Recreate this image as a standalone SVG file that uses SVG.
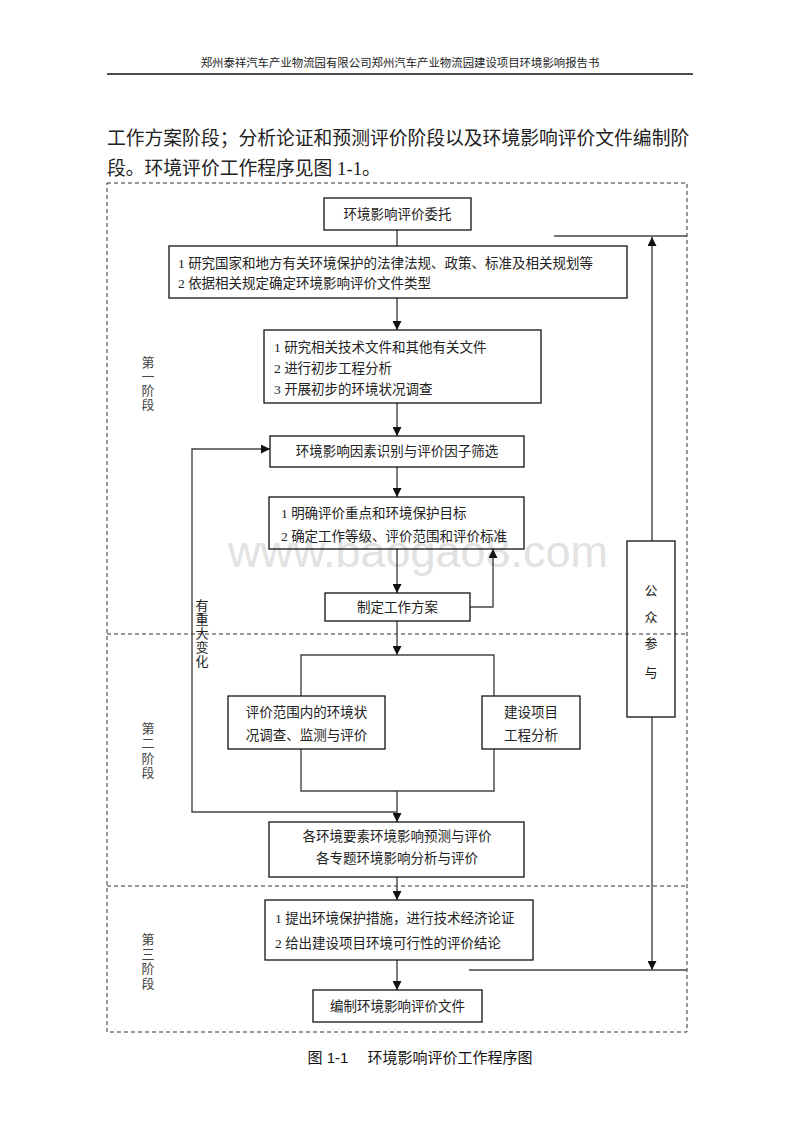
<svg xmlns="http://www.w3.org/2000/svg" width="800" height="1132" viewBox="0 0 800 1132">
<defs>
<marker id="arr" viewBox="0 0 10 10" refX="10" refY="5" markerWidth="9" markerHeight="9" markerUnits="userSpaceOnUse" orient="auto">
<path d="M0,0 L10,5 L0,10 z" fill="#111"/>
</marker>
<style>
.t{font-family:"Liberation Serif","Noto Sans CJK SC",serif;fill:#222;}
.box{fill:none;stroke:#111;stroke-width:1.3;}
.ln{fill:none;stroke:#444;stroke-width:1.4;}
.dash{fill:none;stroke:#333;stroke-width:1;stroke-dasharray:4,3;}
.bx{font-size:13.5px;}
.c{text-anchor:middle;}
.stg{font-size:13px;text-anchor:middle;fill:#444;}
</style>
</defs>
<rect width="800" height="1132" fill="#fff"/>

<!-- page header and body -->
<text class="t c" x="400" y="67" font-size="11.4">郑州泰祥汽车产业物流园有限公司郑州汽车产业物流园建设项目环境影响报告书</text>
<line x1="107" y1="74" x2="693" y2="74" stroke="#111" stroke-width="1.3"/>
<text class="t" x="107" y="145" font-size="18.8">工作方案阶段；分析论证和预测评价阶段以及环境影响评价文件编制阶</text>
<text class="t" x="107" y="175" font-size="18.8">段。环境评价工作程序见图 1-1。</text>

<!-- watermark -->
<text x="418" y="567" font-family="Liberation Sans, Arial, sans-serif" font-size="45" fill="#e2e2e2" text-anchor="middle">www.baogao8.com</text>

<!-- stage frames -->
<g id="frames">
<rect class="dash" x="107" y="183" width="580" height="849"/>
<line class="dash" x1="107" y1="634" x2="687" y2="634"/>
<line class="dash" x1="107" y1="886" x2="687" y2="886"/>
</g>

<!-- stage labels -->
<g id="stage1">
<text class="t stg"><tspan x="148" y="367">第</tspan><tspan x="148" y="381">一</tspan><tspan x="148" y="395">阶</tspan><tspan x="148" y="409">段</tspan></text>
</g>
<g id="stage2">
<text class="t stg"><tspan x="148" y="733">第</tspan><tspan x="148" y="748">二</tspan><tspan x="148" y="763">阶</tspan><tspan x="148" y="777">段</tspan></text>
</g>
<g id="stage3">
<text class="t stg"><tspan x="148" y="944">第</tspan><tspan x="148" y="959">三</tspan><tspan x="148" y="973">阶</tspan><tspan x="148" y="988">段</tspan></text>
</g>

<!-- connectors -->
<g id="connectors">
<line class="ln" x1="397" y1="230" x2="397" y2="246"/>
<line class="ln" x1="397" y1="298" x2="397" y2="330" marker-end="url(#arr)"/>
<line class="ln" x1="397" y1="403" x2="397" y2="436" marker-end="url(#arr)"/>
<line class="ln" x1="397" y1="467" x2="397" y2="497" marker-end="url(#arr)"/>
<line class="ln" x1="397" y1="549" x2="397" y2="593" marker-end="url(#arr)"/>
<polyline class="ln" points="470,607 493,607 493,549" marker-end="url(#arr)"/>
<line class="ln" x1="397" y1="621" x2="397" y2="655" marker-end="url(#arr)"/>
<polyline class="ln" points="301,696 301,655 494,655 494,696"/>
<polyline class="ln" points="301,749 301,791 494,791 494,749"/>
<line class="ln" x1="397" y1="791" x2="397" y2="822" marker-end="url(#arr)"/>
<polyline class="ln" points="397,812 192,812 192,449 270,449" marker-end="url(#arr)"/>
<line class="ln" x1="397" y1="877" x2="397" y2="900" marker-end="url(#arr)"/>
<line class="ln" x1="397" y1="960" x2="397" y2="990" marker-end="url(#arr)"/>
<line class="ln" x1="652" y1="541" x2="652" y2="237" marker-end="url(#arr)"/>
<line class="ln" x1="554" y1="236" x2="687" y2="236"/>
<line class="ln" x1="652" y1="717" x2="652" y2="970" marker-end="url(#arr)"/>
<line class="ln" x1="469" y1="970" x2="687" y2="970"/>
<text class="t" font-size="13" text-anchor="middle" fill="#333"><tspan x="202" y="610">有</tspan><tspan x="202" y="624">重</tspan><tspan x="202" y="638">大</tspan><tspan x="202" y="652">变</tspan><tspan x="202" y="666">化</tspan></text>
</g>

<!-- nodes -->
<g id="n1">
<rect class="box" x="324" y="198" width="147" height="32"/>
<text class="t bx c" x="397.5" y="219">环境影响评价委托</text>
</g>
<g id="n2">
<rect class="box" x="169" y="246" width="458" height="52"/>
<text class="t bx" x="178" y="268">1 研究国家和地方有关环境保护的法律法规、政策、标准及相关规划等</text>
<text class="t bx" x="178" y="288">2 依据相关规定确定环境影响评价文件类型</text>
</g>
<g id="n3">
<rect class="box" x="264" y="330" width="277" height="73"/>
<text class="t bx" x="274" y="352">1 研究相关技术文件和其他有关文件</text>
<text class="t bx" x="274" y="373">2 进行初步工程分析</text>
<text class="t bx" x="274" y="394">3 开展初步的环境状况调查</text>
</g>
<g id="n4">
<rect class="box" x="270" y="436" width="254" height="31"/>
<text class="t bx c" x="397" y="456">环境影响因素识别与评价因子筛选</text>
</g>
<g id="n5">
<rect class="box" x="269" y="497" width="255" height="52"/>
<text class="t bx" x="281" y="518">1 明确评价重点和环境保护目标</text>
<text class="t bx" x="281" y="541">2 确定工作等级、评价范围和评价标准</text>
</g>
<g id="n6">
<rect class="box" x="325" y="593" width="145" height="28"/>
<text class="t bx c" x="397.5" y="612">制定工作方案</text>
</g>
<g id="n7">
<rect class="box" x="228" y="696" width="157" height="53"/>
<text class="t bx c" x="306.5" y="717">评价范围内的环境状</text>
<text class="t bx c" x="306.5" y="740">况调查、监测与评价</text>
</g>
<g id="n8">
<rect class="box" x="482" y="696" width="98" height="53"/>
<text class="t bx c" x="531" y="717">建设项目</text>
<text class="t bx c" x="531" y="740">工程分析</text>
</g>
<g id="n9">
<rect class="box" x="269" y="822" width="255" height="55"/>
<text class="t bx c" x="397" y="841">各环境要素环境影响预测与评价</text>
<text class="t bx c" x="397" y="863">各专题环境影响分析与评价</text>
</g>
<g id="n10">
<rect class="box" x="265" y="900" width="268" height="60"/>
<text class="t bx" x="275" y="923">1 提出环境保护措施，进行技术经济论证</text>
<text class="t bx" x="275" y="948">2 给出建设项目环境可行性的评价结论</text>
</g>
<g id="n11">
<rect class="box" x="313" y="990" width="169" height="32"/>
<text class="t bx c" x="397.5" y="1011">编制环境影响评价文件</text>
</g>
<g id="n12">
<rect class="box" x="627" y="541" width="48" height="176"/>
<text class="t" font-size="13" text-anchor="middle" fill="#333"><tspan x="651" y="595">公</tspan><tspan x="651" y="622">众</tspan><tspan x="651" y="648">参</tspan><tspan x="651" y="677">与</tspan></text>
</g>

<!-- caption -->
<text x="420" y="1063" font-family="'Liberation Sans','Noto Sans CJK SC',sans-serif" font-size="15" fill="#111" text-anchor="middle">图 1-1　 环境影响评价工作程序图</text>
</svg>
